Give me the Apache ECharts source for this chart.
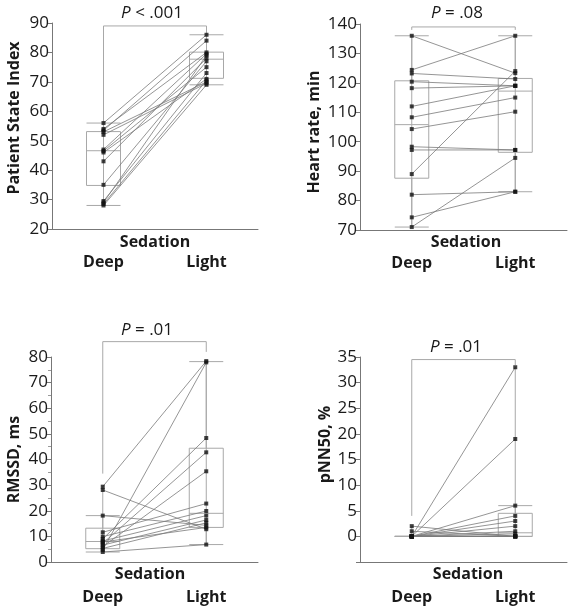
<!DOCTYPE html>
<html>
<head>
<meta charset="utf-8">
<script src="https://cdn.jsdelivr.net/npm/echarts@6/dist/echarts.min.js"></script>
<style>
html,body{margin:0;padding:0;background:#fff;}
#chart{width:576px;height:615px;}
</style>
</head>
<body>
<div id="chart"></div>
<script>
const categories = ['Deep', 'Light'];
const xTitle = 'Sedation';
const axisTitles = ['Patient State Index', 'Heart rate, min', 'RMSSD, ms', 'pNN50, %'];
const pLabels = ['<', '=', '=', '='];
const pValues = ['.001', '.08', '.01', '.01'];

// Panel 1: Patient State Index (paired by index)
const psiDeep  = [56, 54, 53.5, 53, 52, 47, 46.5, 46, 43, 35, 29.5, 29, 28.5, 28];
const psiLight = [86, 80, 84, 70, 69.5, 79.5, 75, 71, 78, 77, 73, 79, 70.5, 69];
const psiBoxDeep  = [28, 34.8, 46.6, 53.1, 56];
const psiBoxLight = [69, 71.2, 77.7, 80.1, 86];
const psiBracket  = [56, 89, 86];

// Panel 2: Heart rate
const hrDeep  = [136, 124.4, 123.2, 120.4, 118.2, 112, 108.3, 104.3, 98.3, 97.2, 89, 82, 74.3, 71];
const hrLight = [123.3, 136, 121.3, 119, 119, 119, 115, 110.2, 97.2, 97.2, 124, 83, 83, 94.5];
const hrBoxDeep  = [71, 87.6, 105.8, 120.7, 136];
const hrBoxLight = [83, 96.4, 117.2, 121.5, 136];
const hrBracket  = [138, 139, 138];

// Panel 3: RMSSD
const rmDeep  = [29.4, 28.1, 18.1, 11.6, 9.9, 9, 8.2, 7.8, 7.3, 6.6, 6, 5.3, 4.7, 3.9];
const rmLight = [78.4, 12.8, 14.3, 22.8, 19.9, 48.4, 18.1, 13.5, 42.8, 16.4, 35.4, 15.3, 77.9, 6.8];
const rmBoxDeep  = [3.9, 5.2, 8, 13.2, 18.1];
const rmBoxLight = [6.8, 13.5, 19, 44.4, 78.2];
const rmBracket  = [34.5, 86, 82];

// Panel 4: pNN50
const pnDeep  = [0, 0, 0, 0, 0, 0, 0, 0, 2, 1, 0, 0, 0, 0];
const pnLight = [33, 19, 6, 4, 3, 2, 1, 0.5, 0, 0, 0, 0, 0, 0];
const pnBoxDeep  = [0, 0, 0, 0, 0];
const pnBoxLight = [0, 0, 0.7, 4.5, 6];
const pnBracket  = [4, 34.5, 33.4];

// y-axis ranges [min, max, interval]
const yRanges = [[20, 90, 10], [70, 140, 10], [0, 80, 10], [-5, 35, 5]];

const FONT = '"Open Sans", "Noto Sans", sans-serif';
const grids = [
  {left: 52, top: 23, width: 206, height: 206},
  {left: 360, top: 24, width: 207, height: 206},
  {left: 51, top: 357, width: 207, height: 205},
  {left: 360, top: 357, width: 207, height: 205}
];
const nameGaps = [30, 38, 29, 26];
const namePads = [[0,0,0,16],[0,10,0,0],[0,0,0,0],[0,0,0,30]];
const titlePos = [[152, 5], [457, 5], [147, 322], [456, 339]];
const xTitlePos = [[155, 234], [466, 234], [150, 566], [468, 566]];
const labelMargins = [25, 25, 27, 27];

const panels = [
  [psiDeep, psiLight, psiBoxDeep, psiBoxLight, psiBracket],
  [hrDeep, hrLight, hrBoxDeep, hrBoxLight, hrBracket],
  [rmDeep, rmLight, rmBoxDeep, rmBoxLight, rmBracket],
  [pnDeep, pnLight, pnBoxDeep, pnBoxLight, pnBracket]
];

const xAxes = [], yAxes = [], series = [], titles = [];
panels.forEach((p, k) => {
  const [deep, light, bDeep, bLight, br] = p;
  xAxes.push({
    gridIndex: k, type: 'category', data: categories, boundaryGap: true,
    axisLine: {onZero: false, lineStyle: {color: '#777', width: 1}},
    axisTick: {show: false},
    axisLabel: {fontFamily: FONT, fontSize: 16, fontWeight: 'bold', color: '#1a1a1a', margin: labelMargins[k]}
  });
  const yr = yRanges[k];
  yAxes.push({
    gridIndex: k, type: 'value', min: yr[0], max: yr[1], interval: yr[2],
    axisLine: {show: true, onZero: false, lineStyle: {color: '#777', width: 1}},
    axisTick: {show: true, length: 4, lineStyle: {color: '#777'}},
    minorTick: {show: k === 2, splitNumber: 2, length: 3, lineStyle: {color: '#999'}},
    splitLine: {show: false},
    axisLabel: {fontFamily: FONT, fontSize: 17, color: '#1a1a1a', margin: 3,
      formatter: v => (v < 0 ? '' : String(v))},
    name: axisTitles[k], nameLocation: 'middle', nameGap: nameGaps[k],
    nameTextStyle: {fontFamily: FONT, fontSize: 16, fontWeight: 'bold', color: '#1a1a1a', padding: namePads[k]}
  });
  titles.push({
    text: '{i|P} ' + pLabels[k] + ' ' + pValues[k],
    left: titlePos[k][0], top: titlePos[k][1], textAlign: 'center', padding: 0,
    textStyle: {fontFamily: FONT, fontSize: 17, fontWeight: 'normal', color: '#1a1a1a',
      rich: {i: {fontFamily: FONT, fontSize: 17, fontStyle: 'italic', color: '#1a1a1a'}}}
  });
  titles.push({
    text: xTitle,
    left: xTitlePos[k][0], top: xTitlePos[k][1], textAlign: 'center', padding: 0,
    textStyle: {fontFamily: FONT, fontSize: 16, fontWeight: 'bold', color: '#1a1a1a'}
  });
  // boxes
  series.push({
    type: 'boxplot', xAxisIndex: k, yAxisIndex: k, data: [bDeep, bLight],
    boxWidth: [34, 34], silent: true, z: 1,
    itemStyle: {color: 'rgba(0,0,0,0)', borderColor: '#a8a8a8', borderWidth: 1}
  });
  // vertical range lines through each group
  [bDeep, bLight].forEach((b, i) => {
    series.push({
      type: 'line', xAxisIndex: k, yAxisIndex: k, symbol: 'none', silent: true, z: 2,
      data: [[i, Math.min(b[0], ...(i ? light : deep))], [i, Math.max(b[4], ...(i ? light : deep))]],
      lineStyle: {color: '#a8a8a8', width: 1}
    });
  });
  // bracket
  series.push({
    type: 'line', xAxisIndex: k, yAxisIndex: k, symbol: 'none', silent: true, clip: false, z: 2,
    data: [[0, br[0]], [0, br[1]], [1, br[1]], [1, br[2]]],
    lineStyle: {color: '#a8a8a8', width: 1}
  });
  // paired lines
  deep.forEach((d, i) => {
    series.push({
      type: 'line', xAxisIndex: k, yAxisIndex: k, symbol: 'none', silent: true, z: 3,
      data: [[0, d], [1, light[i]]],
      lineStyle: {color: '#7a7a7a', width: 0.8}
    });
  });
  // points
  const pts = deep.map(d => [0, d]).concat(light.map(l => [1, l]));
  series.push({
    type: 'scatter', xAxisIndex: k, yAxisIndex: k, symbol: 'rect', symbolSize: 4,
    data: pts, itemStyle: {color: '#111'}, silent: true, z: 5
  });
});

const chart = echarts.init(document.getElementById('chart'), null, {renderer: 'canvas'});
chart.setOption({
  animation: false,
  backgroundColor: '#fff',
  title: titles,
  grid: grids,
  xAxis: xAxes,
  yAxis: yAxes,
  series: series
});
</script>
</body>
</html>
